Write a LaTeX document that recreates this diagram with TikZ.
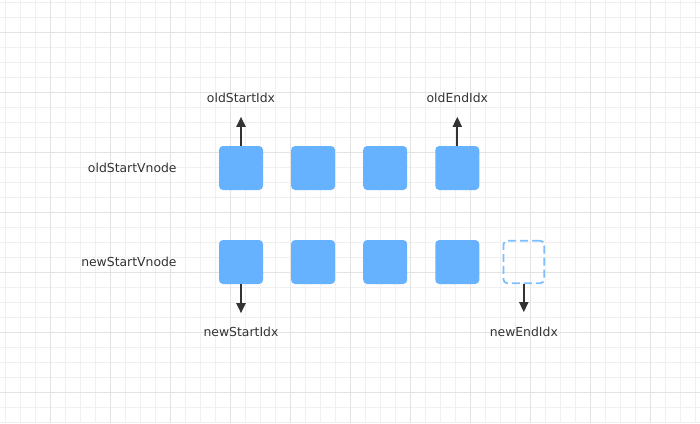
\documentclass[tikz,border=0pt]{standalone}
\usepackage{fontspec}
\setmainfont{DejaVu Sans}
\usetikzlibrary{arrows.meta,positioning}
\definecolor{cell}{HTML}{66B2FF}
\definecolor{ink}{HTML}{333333}
\definecolor{minor}{HTML}{F0F0F0}
\definecolor{major}{HTML}{E3E3E3}

\begin{document}
\begin{tikzpicture}[x=1pt,y=-1pt,>={Triangle[length=10pt,width=9pt]},
 node distance=27.7pt,
 c/.style={fill=cell,rounded corners=4pt,minimum size=44pt,inner sep=0pt},
 e/.style={draw=cell!85,line width=1.8pt,dash pattern=on 8pt off 4pt,rounded corners=4pt,
 minimum width=40.8pt,minimum height=42.5pt,inner sep=0pt},
 t/.style={text=ink,font=\fontsize{12.4}{14}\selectfont,inner sep=0pt},
 a/.style={->,draw=ink,line width=2pt}]
\useasboundingbox (0,0) rectangle (700,423);
% grid
\foreach \x in {5,20,...,695} \draw[minor,line width=1pt] (\x,0) -- (\x,423);
\foreach \y in {2,17,...,422} \draw[minor,line width=1pt] (0,\y) -- (700,\y);
\foreach \x in {50,110,...,650} \draw[major,line width=1pt] (\x,0) -- (\x,423);
\foreach \y in {32,92,...,392} \draw[major,line width=1pt] (0,\y) -- (700,\y);
% old row
\node[c] (o1) at (241,168) {};
\node[c,right=of o1] (o2) {};
\node[c,right=of o2] (o3) {};
\node[c,right=of o3] (o4) {};
% new row
\node[c] (n1) at (241,262) {};
\node[c,right=of n1] (n2) {};
\node[c,right=of n2] (n3) {};
\node[c,right=of n3] (n4) {};
\node[e,right=23pt of n4] (n5) {};
\node[t,left=42pt of o1] (ov) {oldStartVnode};
\node[t,left=42pt of n1] (nv) {newStartVnode};
% pointers
\coordinate[above=29pt of o1.north] (p1);
\coordinate[above=29pt of o4.north] (p4);
\coordinate[below=29pt of n1.south] (q1);
\coordinate[below=28pt of n5.south] (q5);
\node[t,above=14pt of p1] (os) {oldStartIdx};
\node[t,above=14pt of p4] (oe) {oldEndIdx};
\node[t,below=14pt of q1] (ns) {newStartIdx};
\node[t,below=15pt of q5] (ne) {newEndIdx};
\draw[a] (o1.north) -- (p1);
\draw[a] (o4.north) -- (p4);
\draw[a] (n1.south) -- (q1);
\draw[a] (n5.south) -- (q5);
\end{tikzpicture}
\end{document}
